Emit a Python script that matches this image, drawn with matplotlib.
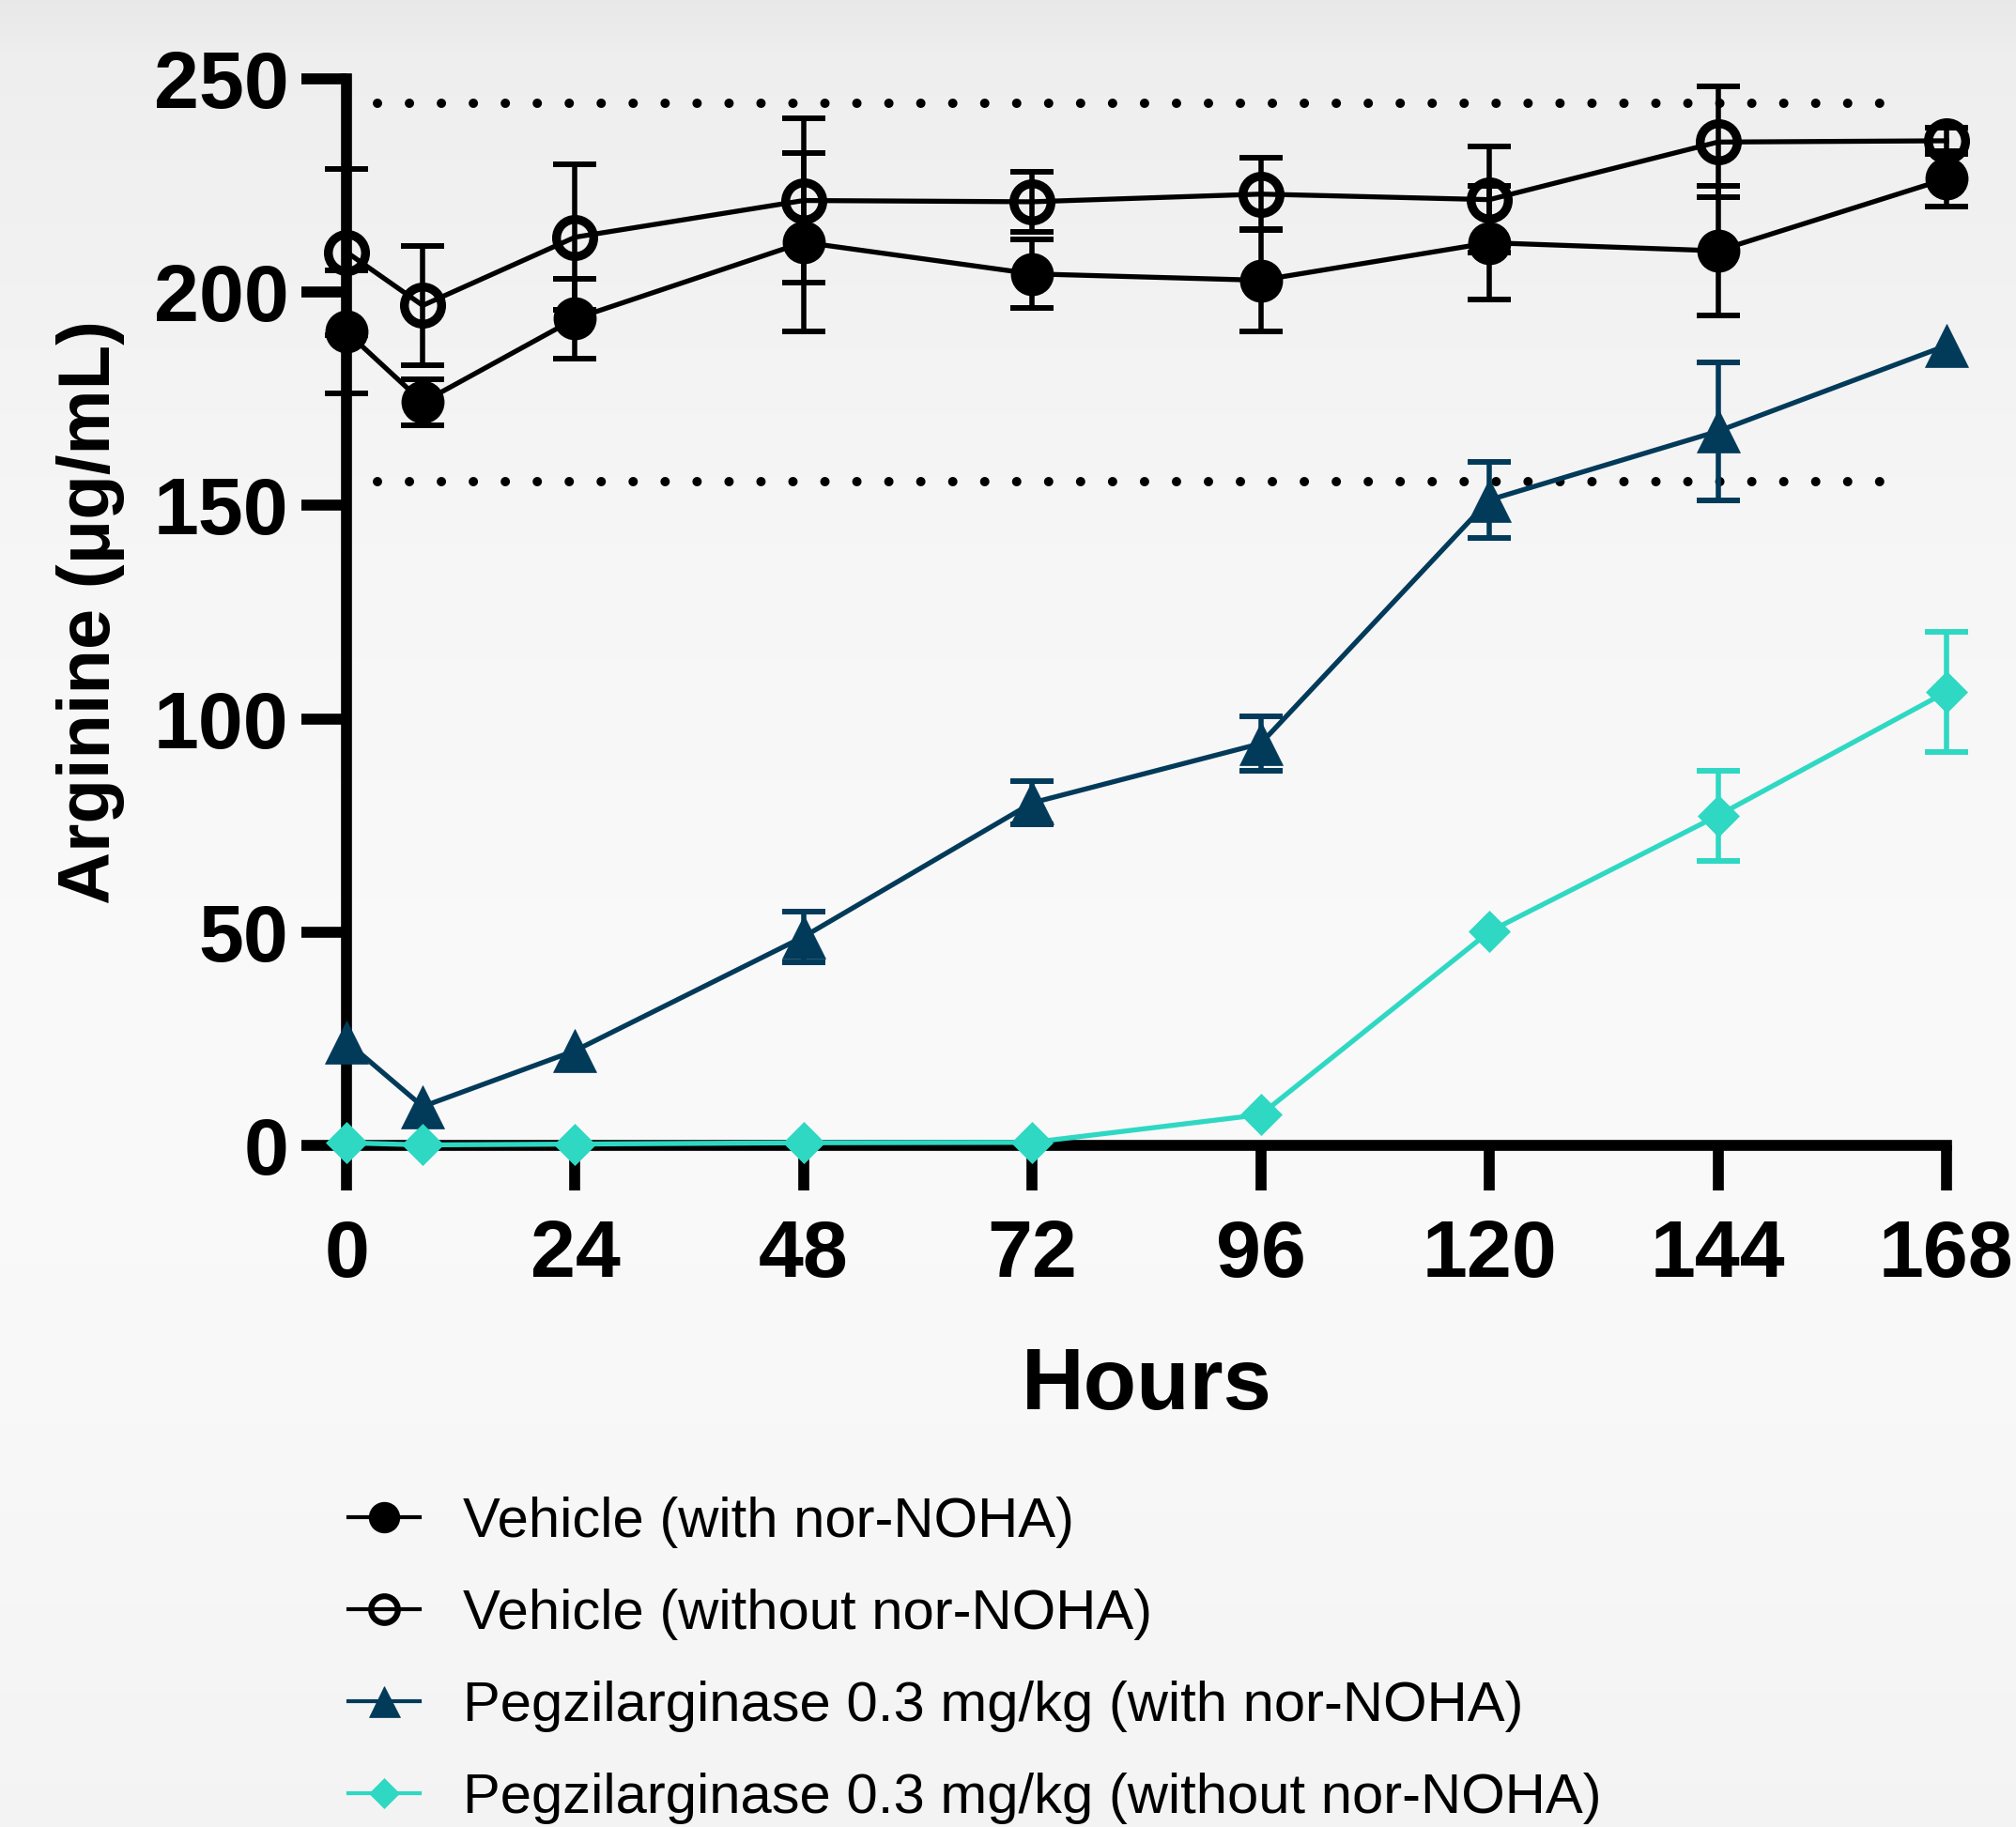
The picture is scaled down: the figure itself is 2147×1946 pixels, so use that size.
import numpy as np
import matplotlib
matplotlib.use("Agg")
import matplotlib.pyplot as plt
from matplotlib.lines import Line2D

# ---------------- data ----------------
hours = [0, 8, 24, 48, 72, 96, 120, 144, 168]

veh_with = [190.7, 174.2, 193.8, 211.7, 204.3, 202.8, 211.6, 209.7, 226.6]
veh_with_err = [14.5, 5.4, 9.4, 21.0, 8.0, 12.0, 13.3, 15.2, 6.5]

veh_without = [209.4, 196.9, 212.9, 221.5, 221.2, 223.0, 221.7, 235.2, 235.5]
veh_without_err = [19.5, 14.0, 17.0, 19.2, 7.0, 8.5, 12.5, 13.0, 3.0]

peg_with = [24.3, 9.1, 22.2, 48.9, 80.3, 94.2, 151.3, 167.4, 187.5]
peg_with_err = [0, 0, 0, 6.0, 5.0, 6.3, 9.0, 16.2, 0]

peg_without = [0.6, 0.1, 0.3, 0.6, 0.7, 7.2, 50.1, 77.3, 106.3]
peg_without_err = [0, 0, 0, 0, 0, 0, 0, 10.6, 14.0]

labels = ["Vehicle (with nor-NOHA)",
          "Vehicle (without nor-NOHA)",
          "Pegzilarginase 0.3 mg/kg (with nor-NOHA)",
          "Pegzilarginase 0.3 mg/kg (without nor-NOHA)"]

ref_levels = [244.3, 155.5]
x_ticks = [0, 24, 48, 72, 96, 120, 144, 168]
y_ticks = [0, 50, 100, 150, 200, 250]

# ---------------- style ----------------
plt.rcParams['font.family'] = ['Liberation Sans', 'DejaVu Sans']

NAVY = '#023a5a'
TURQ = '#2ed8c3'
BLACK = '#000000'

fig = plt.figure(figsize=(21.47, 19.46), dpi=100)

# background gradient
bg = fig.add_axes([0, 0, 1, 1], zorder=-10)
t = np.linspace(0, 1, 600)
g = np.interp(t, [0, 0.03, 0.3, 0.55, 0.75, 1.0], [0.912, 0.935, 0.965, 0.98, 0.975, 0.955])
img = np.repeat(g[:, None, None], 3, axis=2)
bg.imshow(img, aspect='auto', extent=[0, 1, 0, 1], origin='upper')
bg.set_axis_off()

ax = fig.add_axes([0.1719, 0.3731, 0.9655 - 0.1719, 0.9568 - 0.3731])
ax.patch.set_alpha(0)
ax.set_xlim(0, 168)
ax.set_ylim(0, 250)

for s in ['top', 'right']:
    ax.spines[s].set_visible(False)
for s in ['left', 'bottom']:
    ax.spines[s].set_linewidth(8.4)
    ax.spines[s].set_zorder(2)

ax.set_xticks(x_ticks)
ax.set_yticks(y_ticks)
ax.tick_params(axis='both', length=34.5, width=8.4, labelsize=62)
ax.tick_params(axis='x', pad=22)
ax.tick_params(axis='y', pad=10)
for lab in ax.get_xticklabels() + ax.get_yticklabels():
    lab.set_fontweight('bold')

# reference dotted lines
dot_lw = 7.2
for lvl in ref_levels:
    ax.plot([3.2, 161.5], [lvl, lvl], color=BLACK, lw=dot_lw,
            linestyle=(0, (0.001, 24.5 / dot_lw)), dash_capstyle='round', zorder=1)

series = [
    (veh_with, veh_with_err, dict(color=BLACK, marker='o', ms=32, mfc=BLACK, mec=BLACK, mew=1)),
    (veh_without, veh_without_err, dict(color=BLACK, marker='o', ms=28.5, mfc='none', mec=BLACK, mew=6.8)),
    (peg_with, peg_with_err, dict(color=NAVY, marker='^', ms=33, mfc=NAVY, mec=NAVY, mew=0.5)),
    (peg_without, peg_without_err, dict(color=TURQ, marker='D', ms=22.8, mfc=TURQ, mec=TURQ, mew=0.5)),
]

handles = []
for (vals, errs, st), lab in zip(series, labels):
    x = np.array(hours, dtype=float)
    y = np.array(vals, dtype=float)
    e = np.array(errs, dtype=float)
    m = e > 0
    if m.any():
        ax.errorbar(x[m], y[m], yerr=e[m], fmt='none', ecolor=st['color'],
                    elinewidth=4, capsize=16.5, capthick=4.3, zorder=3, clip_on=False)
    ax.plot(x, y, lw=3.8, zorder=4, clip_on=False, **st)
    hst = dict(st)
    if hst['mfc'] == 'none':
        hst['mew'] = 4.5
    handles.append(Line2D([], [], lw=3, **hst))

ax.set_xlabel('Hours', fontsize=66.5, fontweight='bold', labelpad=40)
ax.set_ylabel('Arginine (\u03bcg/mL)', fontsize=56, fontweight='bold', labelpad=22)

leg = fig.legend(handles, labels, loc='upper left', bbox_to_anchor=(0.1728, 0.181),
                 frameon=False, fontsize=43, markerscale=0.72, handlelength=1.27,
                 handletextpad=0.77, labelspacing=0.72, borderpad=0, borderaxespad=0)

fig.savefig('out.png', dpi=100)
